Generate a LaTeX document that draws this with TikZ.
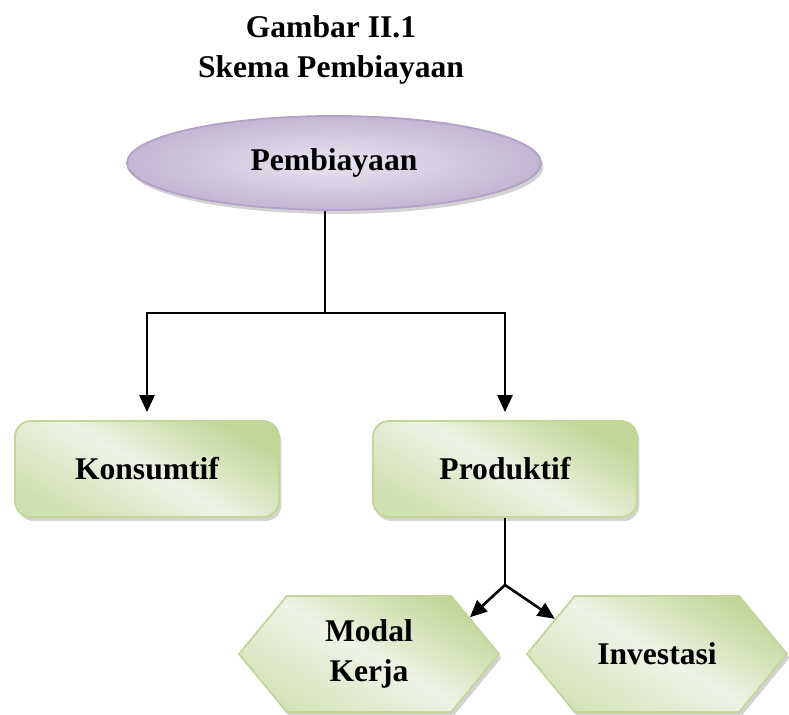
\documentclass[tikz,border=0pt]{standalone}
\usepackage{fontspec}
\setmainfont{Liberation Serif}
\usepackage{xcolor}
\usepackage{tikz}
\usetikzlibrary{arrows.meta, positioning, shapes.geometric, shapes.symbols, shadows}
\definecolor{lilac}{RGB}{233,229,240}
\definecolor{lilacdark}{RGB}{178,162,199}
\definecolor{leaf}{RGB}{194,214,152}
\definecolor{leaflight}{RGB}{238,243,228}

\begin{document}
\begin{tikzpicture}[
    x=0.5pt, y=-0.5pt,
    font=\fontsize{15.8}{20}\selectfont\bfseries,
    softshadow/.style={drop shadow={shadow xshift=1.2pt, shadow yshift=-2pt, opacity=0.35}},
    root/.style={ellipse, draw=lilacdark, line width=0.9pt, inner color=lilac, outer color=lilacdark!70!lilac, minimum width=207pt, minimum height=47pt, softshadow},
    kind/.style={draw=leaf, line width=0.9pt, rounded corners=8pt, minimum width=132pt, minimum height=48pt, align=center, top color=leaf, bottom color=leaf!65!leaflight, middle color=leaflight, shading angle=-30, softshadow},
    use/.style={signal, signal to=west and east, signal pointer angle=101, draw=leaf, line width=0.9pt, minimum width=130pt, minimum height=58pt, align=center, top color=leaf, bottom color=leaf!55!leaflight, middle color=leaflight, shading angle=-30, softshadow},
    link/.style={line width=1.3pt},
    arrow/.style={link, -{Triangle[length=8.5pt, width=7.5pt]}, shorten >=4pt}
]
\useasboundingbox (0,0) rectangle (789,715);

% Title
\node[align=center, inner sep=0pt] (title) at (331,50) {Gambar II.1\\Skema Pembiayaan};

% Top of the scheme
\node[root] (pemb) at (334,163) {Pembiayaan};
\coordinate (split) at (325,313);

% Two kinds
\node[kind] (kons) at (147,469) {Konsumtif};
\node[kind] (prod) at (505,469) {Produktif};

\draw[link] (split |- pemb.south) -- (split);
\draw[arrow] (split) -| (kons);
\draw[arrow] (split) -| (prod);

% Productive uses
\node[use] (modal) at (369,654) {Modal\\Kerja};
\node[use] (inv) at (657,654) {Investasi};
\coordinate (fork) at (505,585);

\draw[link] (prod) -- (fork);
\draw[arrow, shorten >=0pt] (fork) -- (modal.20);
\draw[arrow, shorten >=0pt] (fork) -- (inv.161);
\end{tikzpicture}
\end{document}
